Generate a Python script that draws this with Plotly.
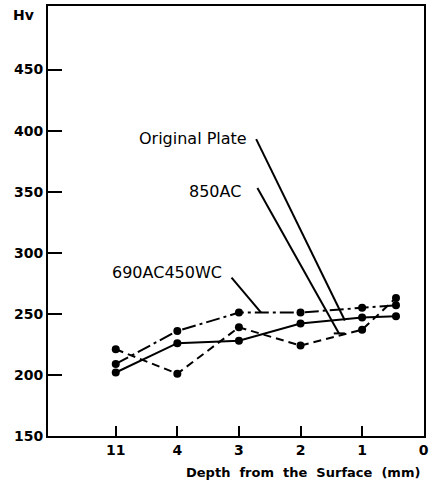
import plotly.graph_objects as go

# Depth tick labels and their positions on a compressed axis (11 mm drawn one step left of 4 mm)
depth_labels = ["11", "4", "3", "2", "1", "0"]
depth_pos = [5, 4, 3, 2, 1, 0]

# measured points (axis position of depth)
x_points = [5, 4, 3, 2, 1, 0.45]
original_plate = [202, 226, 228, 242, 247, 248]
ac850 = [221, 201, 239, 224, 237, 263]
ac690wc450 = [209, 236, 251, 251, 255, 257]

y_ticks = [150, 200, 250, 300, 350, 400, 450]

FONT = "DejaVu Sans"

fig = go.Figure()

series = [
    ("Original Plate", original_plate, "solid"),
    ("850AC", ac850, "8px,5px"),
    ("690AC450WC", ac690wc450, "14px,4px,3px,4px"),
]
for name, vals, dash in series:
    fig.add_trace(go.Scatter(
        x=x_points, y=vals, mode="lines+markers", name=name,
        line=dict(color="black", width=2, dash=dash),
        marker=dict(color="black", size=8, symbol="circle"),
        showlegend=False, cliponaxis=False,
    ))

# labels with leader lines (data coordinates)
labels = [
    dict(text="Original Plate", x=2.83, y=393.7, lx0=2.72, ly0=393.0, lx1=1.28, ly1=244.6),
    dict(text="850AC", x=2.94, y=350.5, lx0=2.70, ly0=353.0, lx1=1.375, ly1=234.0),
    dict(text="690AC450WC", x=3.24, y=283.7, lx0=3.12, ly0=279.6, lx1=2.64, ly1=251.0),
]
for lab in labels:
    fig.add_annotation(x=lab["x"], y=lab["y"], xref="x", yref="y", text=lab["text"],
                       showarrow=False, xanchor="right", yanchor="middle",
                       font=dict(family=FONT, size=16, color="black"))
    fig.add_shape(type="line", xref="x", yref="y", x0=lab["lx0"], y0=lab["ly0"],
                  x1=lab["lx1"], y1=lab["ly1"], line=dict(color="black", width=2))

# small end bar on the 850AC leader
fig.add_shape(type="line", xref="x", yref="y", x0=1.46, y0=234, x1=1.28, y1=234,
              line=dict(color="black", width=2))

fig.add_annotation(x=-0.064, y=0.979, xref="paper", yref="paper", text="Hv",
                   showarrow=False, xanchor="center", yanchor="middle",
                   font=dict(family=FONT, size=14, color="black", weight="bold"))
fig.add_annotation(x=0.995, y=-0.085, xref="paper", yref="paper",
                   text="Depth  from  the  Surface  (mm)",
                   showarrow=False, xanchor="right", yanchor="middle",
                   font=dict(family=FONT, size=13, color="black", weight="bold"))

fig.update_layout(
    width=433, height=487,
    margin=dict(l=48, r=8, t=4, b=51),
    plot_bgcolor="white", paper_bgcolor="white",
    xaxis=dict(range=[6.1, -0.005], tickvals=depth_pos, ticktext=depth_labels,
               ticks="inside", ticklen=10, tickwidth=2, tickcolor="black",
               showline=True, linewidth=2, linecolor="black", mirror=True,
               showgrid=False, zeroline=False, ticklabeloverflow="allow",
               tickfont=dict(family=FONT, size=14, color="black", weight="bold")),
    yaxis=dict(range=[150, 502], tickvals=y_ticks,
               ticks="inside", ticklen=14, tickwidth=2, tickcolor="black",
               showline=True, linewidth=2, linecolor="black", mirror=True,
               showgrid=False, zeroline=False,
               tickfont=dict(family=FONT, size=14, color="black", weight="bold")),
)

fig.write_html("out.html", config={"displayModeBar": False},
               post_script="document.body.style.margin='0';")
